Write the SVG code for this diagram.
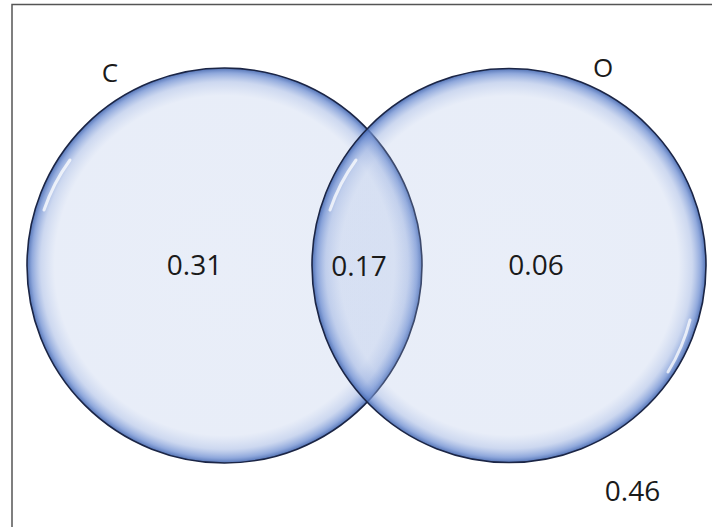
<svg xmlns="http://www.w3.org/2000/svg" width="712" height="527" viewBox="0 0 712 527">
<defs>
<radialGradient id="bub" cx="0.5" cy="0.5" r="0.5">
<stop offset="0" stop-color="#a3b8e3" stop-opacity="0.24"/>
<stop offset="0.86" stop-color="#a3b8e3" stop-opacity="0.25"/>
<stop offset="0.93" stop-color="#8fa8dd" stop-opacity="0.45"/>
<stop offset="0.975" stop-color="#6a8bd0" stop-opacity="0.75"/>
<stop offset="1" stop-color="#3f63ad" stop-opacity="0.9"/>
</radialGradient>
</defs>
<style>
.set{fill:url(#bub);stroke:#1b2545;stroke-width:1.6}
.hl{fill:none;stroke:#ffffff;stroke-opacity:0.75;stroke-width:3;stroke-linecap:round}
text{font-family:"Open Sans","Liberation Sans",sans-serif;font-size:28px;fill:#1a1a1a;text-anchor:middle}
.lbl{font-size:26px}
</style>
<rect x="0" y="0" width="712" height="527" fill="#ffffff"/>
<rect x="12" y="4.5" width="720" height="540" fill="none" stroke="#555555" stroke-width="1.5"/>
<g id="set-C">
<circle class="set" cx="224.5" cy="265.5" r="197.5"/>
<path class="hl" d="M44,210 A186,186 0 0 1 70,160"/>
<text class="lbl" x="110" y="82">C</text>
</g>
<g id="set-O">
<circle class="set" cx="509" cy="265.5" r="197"/>
<path class="hl" d="M330,210 A186,186 0 0 1 356,160"/>
<path class="hl" d="M690,320 A186,186 0 0 1 668,372"/>
<text class="lbl" x="603" y="77">O</text>
</g>
<g id="values">
<text x="194.5" y="275">0.31</text>
<text x="359" y="275.5">0.17</text>
<text x="536" y="275">0.06</text>
<text x="632.5" y="501">0.46</text>
</g>
</svg>
